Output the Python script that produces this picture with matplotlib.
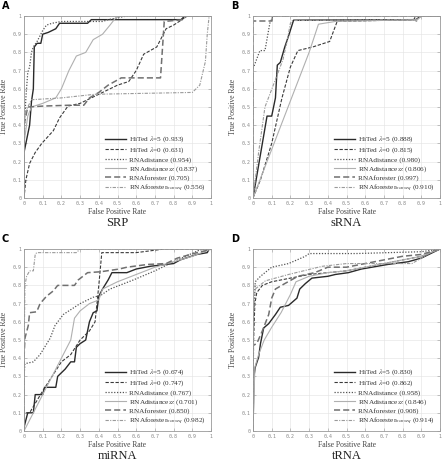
import numpy as np
import matplotlib
matplotlib.use("Agg")
import matplotlib.pyplot as plt

plt.rcParams['font.family'] = ['Liberation Serif', 'DejaVu Serif']
plt.rcParams['mathtext.fontset'] = 'stix'

# --- ROC curves: (false positive rate, true positive rate) ---

# A: SRP
srp_hited5 = [(0, 0), (0, 0.25), (0.01, 0.3), (0.02, 0.35), (0.03, 0.4), (0.04, 0.53), (0.05, 0.6),
              (0.055, 0.83), (0.07, 0.85), (0.09, 0.85), (0.1, 0.9), (0.13, 0.91), (0.17, 0.93),
              (0.19, 0.96), (0.34, 0.96), (0.36, 0.98), (0.84, 0.98), (0.86, 1.0), (1, 1)]
srp_hited0 = [(0, 0), (0.005, 0.05), (0.01, 0.1), (0.03, 0.19), (0.06, 0.25), (0.095, 0.3),
              (0.157, 0.37), (0.19, 0.44), (0.235, 0.505), (0.3, 0.52), (0.4, 0.57), (0.5, 0.62),
              (0.56, 0.64), (0.6, 0.7), (0.64, 0.79), (0.71, 0.83), (0.745, 0.9), (0.76, 0.93),
              (0.8, 0.95), (0.845, 0.98), (0.87, 1), (1, 1)]
srp_rnadist = [(0, 0), (0, 0.25), (0.005, 0.45), (0.01, 0.55), (0.02, 0.69), (0.03, 0.72),
               (0.04, 0.8), (0.05, 0.83), (0.07, 0.86), (0.09, 0.9), (0.1, 0.92), (0.12, 0.95),
               (0.15, 0.96), (0.2, 0.97), (0.42, 0.97), (0.45, 0.98), (0.55, 1), (1, 1)]
srp_rnadist_sz = [(0, 0), (0, 0.3), (0.02, 0.45), (0.04, 0.5), (0.1, 0.52), (0.17, 0.55),
                  (0.2, 0.6), (0.24, 0.7), (0.28, 0.78), (0.33, 0.8), (0.37, 0.87), (0.42, 0.9),
                  (0.46, 0.95), (0.49, 0.99), (0.52, 1), (1, 1)]
srp_forester = [(0, 0), (0, 0.4), (0.02, 0.5), (0.1, 0.505), (0.25, 0.51), (0.32, 0.51),
                (0.35, 0.55), (0.4, 0.58), (0.45, 0.62), (0.52, 0.66), (0.73, 0.66), (0.75, 0.97),
                (0.85, 0.98), (0.87, 1), (1, 1)]
srp_forester_ns = [(0, 0), (0, 0.45), (0.02, 0.5), (0.04, 0.54), (0.2, 0.55), (0.38, 0.57),
                   (0.9, 0.58), (0.94, 0.62), (0.97, 0.75), (0.98, 0.9), (0.99, 1), (1, 1)]

# B: sRNA
srna_hited5 = [(0, 0), (0.075, 0.45), (0.1, 0.45), (0.12, 0.55), (0.13, 0.73), (0.146, 0.745),
               (0.17, 0.83), (0.19, 0.89), (0.217, 0.977), (0.87, 0.98), (0.9, 1), (1, 1)]
srna_hited0 = [(0, 0), (0.04, 0.1), (0.1, 0.3), (0.155, 0.55), (0.2, 0.72), (0.24, 0.81),
               (0.32, 0.83), (0.41, 0.86), (0.45, 0.97), (0.86, 0.98), (0.87, 1), (1, 1)]
srna_rnadist = [(0, 0), (0, 0.71), (0.037, 0.81), (0.064, 0.81), (0.09, 0.96), (0.107, 1), (1, 1)]
srna_rnadist_sz = [(0, 0), (0.3, 0.8), (0.35, 0.955), (0.44, 0.97), (0.88, 0.98), (0.9, 1), (1, 1)]
srna_forester = [(0, 0), (0, 0.975), (0.1, 0.975), (0.1, 1), (1, 1)]
srna_forester_ns = [(0, 0), (0.03, 0.25), (0.064, 0.5), (0.127, 0.67), (0.16, 0.76), (0.18, 0.85),
                    (0.2, 0.96), (0.21, 0.975), (0.86, 0.98), (0.875, 0.97), (0.88, 1), (1, 1)]

# C: miRNA
mirna_hited5 = [(0, 0), (0, 0.02), (0.02, 0.1), (0.05, 0.1), (0.06, 0.2), (0.1, 0.2), (0.11, 0.24),
                (0.17, 0.24), (0.18, 0.3), (0.22, 0.34), (0.25, 0.38), (0.27, 0.38), (0.28, 0.46),
                (0.3, 0.48), (0.33, 0.5), (0.35, 0.6), (0.37, 0.65), (0.39, 0.66), (0.4, 0.74),
                (0.42, 0.78), (0.45, 0.83), (0.47, 0.87), (0.55, 0.87), (0.6, 0.89), (0.675, 0.905),
                (0.8, 0.92), (0.835, 0.94), (0.925, 0.97), (0.98, 0.98), (0.99, 1), (1, 1)]
mirna_hited0 = [(0, 0), (0, 0.1), (0.03, 0.1), (0.1, 0.22), (0.2, 0.38), (0.25, 0.42), (0.3, 0.5),
                (0.35, 0.55), (0.38, 0.6), (0.4, 0.8), (0.416, 0.98), (0.6, 0.98), (0.75, 1), (1, 1)]
mirna_rnadist = [(0, 0), (0, 0.3), (0.005, 0.37), (0.05, 0.38), (0.086, 0.42), (0.14, 0.51),
                 (0.166, 0.58), (0.21, 0.64), (0.3, 0.7), (0.37, 0.735), (0.41, 0.745), (0.46, 0.78),
                 (0.51, 0.8), (0.585, 0.83), (0.7, 0.88), (0.8, 0.93), (0.94, 0.995), (1, 1)]
mirna_rnadist_sz = [(0, 0), (0.1, 0.2), (0.2, 0.4), (0.25, 0.5), (0.27, 0.62), (0.3, 0.66),
                    (0.35, 0.7), (0.4, 0.72), (0.42, 0.78), (0.5, 0.82), (0.6, 0.86), (0.7, 0.9),
                    (0.8, 0.93), (0.9, 0.96), (1, 1)]
mirna_forester = [(0, 0), (0, 0.4), (0.005, 0.51), (0.023, 0.58), (0.03, 0.65), (0.068, 0.655),
                  (0.086, 0.7), (0.12, 0.74), (0.157, 0.77), (0.18, 0.8), (0.27, 0.8), (0.29, 0.83),
                  (0.34, 0.87), (0.41, 0.875), (0.51, 0.89), (0.55, 0.9), (0.66, 0.915), (0.76, 0.92),
                  (0.82, 0.95), (0.925, 0.98), (0.99, 0.995), (1, 1)]
mirna_forester_ns = [(0, 0), (0, 0.4), (0.005, 0.8), (0.014, 0.85), (0.03, 0.88), (0.05, 0.88),
                     (0.06, 0.97), (0.068, 0.98), (0.28, 0.98), (0.3, 1), (1, 1)]

# D: tRNA
trna_hited5 = [(0, 0), (0.005, 0.3), (0.012, 0.35), (0.03, 0.405), (0.04, 0.48), (0.057, 0.566),
               (0.084, 0.59), (0.12, 0.64), (0.146, 0.68), (0.19, 0.69), (0.235, 0.73), (0.25, 0.78),
               (0.28, 0.81), (0.315, 0.84), (0.4, 0.85), (0.44, 0.86), (0.51, 0.87), (0.58, 0.89),
               (0.72, 0.915), (0.83, 0.93), (0.9, 0.95), (0.97, 0.985), (1, 1)]
trna_hited0 = [(0, 0), (0.003, 0.5), (0.01, 0.7), (0.02, 0.76), (0.05, 0.8), (0.1, 0.82),
               (0.2, 0.84), (0.3, 0.86), (0.4, 0.87), (0.5, 0.88), (0.6, 0.9), (0.7, 0.92),
               (0.8, 0.94), (0.9, 0.96), (1, 1)]
trna_rnadist = [(0, 0), (0.003, 0.6), (0.012, 0.82), (0.04, 0.85), (0.1, 0.9), (0.19, 0.92),
                (0.28, 0.96), (0.3, 0.975), (0.55, 0.975), (0.9, 0.985), (1, 1)]
trna_rnadist_sz = [(0, 0), (0.01, 0.35), (0.03, 0.42), (0.06, 0.5), (0.1, 0.57), (0.15, 0.65),
                   (0.2, 0.75), (0.23, 0.82), (0.3, 0.85), (0.4, 0.87), (0.5, 0.88), (0.6, 0.9),
                   (0.7, 0.92), (0.8, 0.94), (0.9, 0.96), (1, 1)]
trna_forester = [(0, 0), (0, 0.47), (0.02, 0.48), (0.05, 0.55), (0.084, 0.64), (0.1, 0.73),
                 (0.12, 0.78), (0.17, 0.81), (0.24, 0.85), (0.33, 0.87), (0.4, 0.9), (0.5, 0.9),
                 (0.6, 0.92), (0.7, 0.94), (0.8, 0.96), (0.9, 0.97), (1, 1)]
trna_forester_ns = [(0, 0), (0.003, 0.65), (0.012, 0.78), (0.066, 0.825), (0.19, 0.86),
                    (0.37, 0.905), (0.5, 0.92), (0.6, 0.92), (0.85, 0.92), (0.9, 0.95),
                    (0.95, 0.98), (1, 1)]

panel_titles = ["SRP", "sRNA", "miRNA", "tRNA"]
panel_letters = ["A", "B", "C", "D"]
auc_values = [
    [0.933, 0.631, 0.954, 0.837, 0.705, 0.556],
    [0.888, 0.815, 0.980, 0.806, 0.997, 0.910],
    [0.674, 0.747, 0.767, 0.701, 0.850, 0.982],
    [0.830, 0.862, 0.958, 0.846, 0.908, 0.914],
]
method_names = [r"HiTed $\lambda$=5", r"HiTed $\lambda$=0", "RNAdistance",
                r"RNAdistance$_{SZ}$", "RNAforester", r"RNAforester$_{nonseq}$"]

curves = [
    [srp_hited5, srp_hited0, srp_rnadist, srp_rnadist_sz, srp_forester, srp_forester_ns],
    [srna_hited5, srna_hited0, srna_rnadist, srna_rnadist_sz, srna_forester, srna_forester_ns],
    [mirna_hited5, mirna_hited0, mirna_rnadist, mirna_rnadist_sz, mirna_forester, mirna_forester_ns],
    [trna_hited5, trna_hited0, trna_rnadist, trna_rnadist_sz, trna_forester, trna_forester_ns],
]

# line styles for the 6 methods
styles = [
    dict(color='#2a2a2a', lw=1.0, ls='-'),
    dict(color='#3a3a3a', lw=0.8, ls=(0, (3, 1.5))),
    dict(color='#555555', lw=0.9, ls=(0, (1, 1.3))),
    dict(color='#b0b0b0', lw=0.8, ls='-'),
    dict(color='#707070', lw=1.1, ls=(0, (4, 2))),
    dict(color='#9a9a9a', lw=0.8, ls=(0, (3, 1.2, 1, 1.2))),
]

fig = plt.figure(figsize=(4.45, 4.67), dpi=100)

W, H = 445.0, 467.0
boxes = [(24, 16), (253, 16), (24, 249), (253, 249)]  # left, top in pixels
aw, ah = 187.0, 182.0

for i in range(4):
    left, top = boxes[i]
    ax = fig.add_axes([left / W, 1 - (top + ah) / H, aw / W, ah / H])
    for j in range(6):
        pts = np.array(curves[i][j])
        ax.plot(pts[:, 0], pts[:, 1],
                label=f"{method_names[j]} ({auc_values[i][j]:.3f})", **styles[j])
    ax.set_xlim(0, 1)
    ax.set_ylim(0, 1)
    ticks = np.arange(0, 1.01, 0.1)
    ticklabels = ["0"] + [f"{t:.1f}" for t in ticks[1:-1]] + ["1"]
    ax.set_xticks(ticks)
    ax.set_yticks(ticks)
    ax.set_xticklabels(ticklabels, family='DejaVu Sans Mono', fontsize=3.6, color='#888888')
    ax.set_yticklabels(ticklabels, family='DejaVu Sans Mono', fontsize=3.6, color='#888888')
    ax.tick_params(direction='in', length=2, width=0.4, color='#999999', pad=2,
                   top=True, right=True)
    ax.grid(True, color='#e2e2e2', lw=0.4)
    for s in ax.spines.values():
        s.set_color('#999999')
        s.set_linewidth(0.6)
    ax.set_xlabel("False Positive Rate", fontsize=5.5, color='#444444', labelpad=1.5)
    ax.set_ylabel("True Positive Rate", fontsize=5.5, color='#444444', labelpad=3)
    ax.legend(loc='lower right', frameon=False, fontsize=5.2, handlelength=2.8,
              handletextpad=0.5, labelspacing=0.15, borderaxespad=0.3, labelcolor='#333333')
    fig.text((left + aw / 2) / W, 1 - (top + ah + 25) / H, panel_titles[i],
             ha='center', va='center', fontsize=9, color='#222222')
    fig.text((left - 22) / W, 1 - (top - 10) / H, panel_letters[i], family='DejaVu Sans',
             fontweight='bold', fontsize=7, ha='left', va='center')

fig.savefig("out.png", dpi=100)
